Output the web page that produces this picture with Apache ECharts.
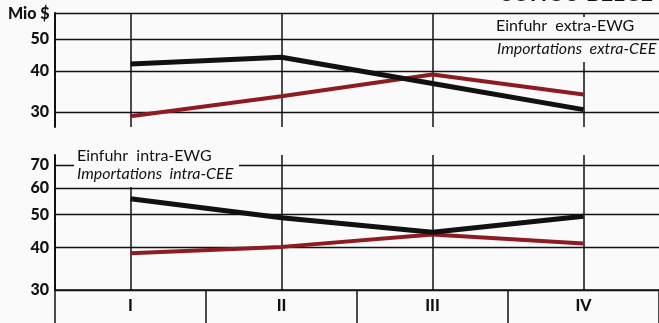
<!DOCTYPE html>
<html>
<head>
<meta charset="utf-8">
<script src="https://cdn.jsdelivr.net/npm/echarts@6/dist/echarts.min.js"></script>
<style>html,body{margin:0;padding:0;background:#fafafa;}#c{width:659px;height:323px;}</style>
</head>
<body>
<div id="c"></div>
<script>
// ---- data ----
var quarters = ['I', 'II', 'III', 'IV'];
// Top panel: Einfuhr extra-EWG / Importations extra-CEE (Mio $)
var extraBlack = [42.0, 44.0, 36.6, 30.5];
var extraRed = [29.1, 33.5, 39.0, 33.9];
// Bottom panel: Einfuhr intra-EWG / Importations intra-CEE (Mio $)
var intraBlack = [55.7, 49.0, 44.4, 49.5];
var intraRed = [38.5, 40.2, 43.7, 41.1];
// gridline / tick values
var topGridValues = [30, 40, 50, 60];
var topLabelValues = [30, 40, 50];
var bottomGridValues = [30, 40, 50, 60, 70];
var bottomLabelValues = [30, 40, 50, 60, 70];

var FONT = 'Lato';
var BLACK = '#111111';
var RED = '#8e1b22';

function hLines(values, labeled) {
  return values.map(function (v) {
    return {
      yAxis: v,
      label: {
        show: labeled.indexOf(v) >= 0,
        position: 'start',
        distance: 6,
        formatter: String(v),
        color: BLACK,
        fontFamily: FONT,
        fontWeight: 900,
        fontSize: 16
      }
    };
  });
}
function vLines(cats) {
  return cats.map(function (c) { return { xAxis: c }; });
}

var chart = echarts.init(document.getElementById('c'));
chart.setOption({
  animation: false,
  backgroundColor: '#fafafa',
  grid: [
    { left: 55, width: 610, top: 13, height: 114 },
    { left: 55, width: 610, top: 155, height: 135 }
  ],
  xAxis: [
    { type: 'category', gridIndex: 0, data: quarters, boundaryGap: true,
      axisLine: { show: false }, axisTick: { show: false }, axisLabel: { show: false }, splitLine: { show: false } },
    { type: 'category', gridIndex: 1, data: quarters, boundaryGap: true,
      axisLine: { show: true, lineStyle: { color: BLACK, width: 1.5 } },
      axisTick: { show: true, length: 34, lineStyle: { color: BLACK, width: 1.5 } },
      axisLabel: { show: true, margin: 8, color: BLACK, fontFamily: FONT, fontWeight: 900, fontSize: 16 },
      splitLine: { show: false } }
  ],
  yAxis: [
    { type: 'log', gridIndex: 0, min: 27, max: 60,
      axisLine: { show: true, lineStyle: { color: BLACK, width: 2 } },
      axisTick: { show: false }, axisLabel: { show: false }, splitLine: { show: false } },
    { type: 'log', gridIndex: 1, min: 30, max: 75,
      axisLine: { show: true, lineStyle: { color: BLACK, width: 2 } },
      axisTick: { show: false }, axisLabel: { show: false }, splitLine: { show: false } }
  ],
  series: [
    { type: 'line', xAxisIndex: 0, yAxisIndex: 0, data: extraRed, z: 5,
      symbol: 'none', lineStyle: { color: RED, width: 4 },
      markLine: { z: 1, silent: true, symbol: ['none', 'none'], label: { show: false },
        lineStyle: { color: BLACK, width: 1.5, type: 'solid' }, data: vLines(quarters) } },
    { type: 'line', xAxisIndex: 0, yAxisIndex: 0, data: extraBlack, z: 6,
      symbol: 'none', lineStyle: { color: BLACK, width: 5 },
      markLine: { z: 4, silent: true, symbol: ['none', 'none'],
        lineStyle: { color: BLACK, width: 1.3, type: 'solid' }, data: hLines(topGridValues, topLabelValues) } },
    { type: 'line', xAxisIndex: 1, yAxisIndex: 1, data: intraRed, z: 5,
      symbol: 'none', lineStyle: { color: RED, width: 4 },
      markLine: { z: 1, silent: true, symbol: ['none', 'none'], label: { show: false },
        lineStyle: { color: BLACK, width: 1.5, type: 'solid' }, data: vLines(quarters) } },
    { type: 'line', xAxisIndex: 1, yAxisIndex: 1, data: intraBlack, z: 6,
      symbol: 'none', lineStyle: { color: BLACK, width: 5 },
      markLine: { z: 4, silent: true, symbol: ['none', 'none'],
        lineStyle: { color: BLACK, width: 1.3, type: 'solid' }, data: hLines(bottomGridValues, bottomLabelValues) } }
  ],
  graphic: [
    { type: 'text', x: 8, y: 6, z: 10,
      style: { text: 'Mio $', fill: BLACK, font: '900 16px ' + FONT } },
    { type: 'text', x: 498, y: -17, z: 10,
      style: { text: 'CONGO BELGE', fill: BLACK, font: '900 22px ' + FONT } },
    // top legend box (hides vertical line IV behind it)
    { type: 'rect', z: 2, shape: { x: 490, y: 17, width: 169, height: 45 }, style: { fill: '#fafafa' } },
    { type: 'text', x: 496, y: 18, z: 10,
      style: { text: 'Einfuhr  extra-EWG', fill: BLACK, font: '16px ' + FONT } },
    { type: 'text', x: 497, y: 41, z: 10,
      style: { text: 'Importations  extra-CEE', fill: BLACK, font: 'italic 16px ' + FONT } },
    // bottom legend box
    { type: 'rect', z: 7, shape: { x: 74, y: 150, width: 165, height: 37 }, style: { fill: '#fafafa' } },
    { type: 'text', x: 77, y: 148, z: 10,
      style: { text: 'Einfuhr  intra-EWG', fill: BLACK, font: '16px ' + FONT } },
    { type: 'text', x: 77, y: 166, z: 10,
      style: { text: 'Importations  intra-CEE', fill: BLACK, font: 'italic 16px ' + FONT } }
  ]
});
</script>
</body>
</html>
